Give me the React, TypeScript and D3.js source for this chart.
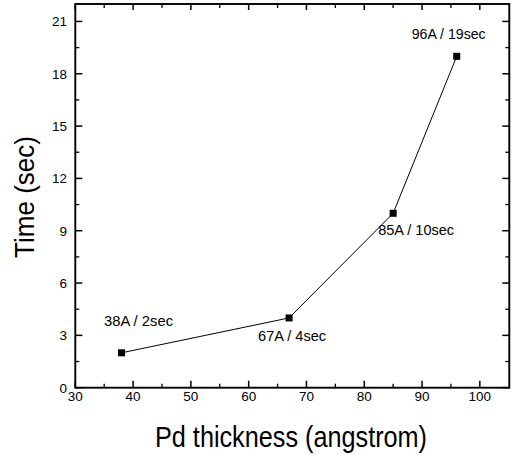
import React from "react";
import * as d3 from "d3";

const thickness = [38, 67, 85, 96];
const timeSec = [2, 4, 10, 19];
const pointLabels = ["38A / 2sec", "67A / 4sec", "85A / 10sec", "96A / 19sec"];
const xTickValues = [30, 40, 50, 60, 70, 80, 90, 100];
const xMinorValues = [35, 45, 55, 65, 75, 85, 95];
const yTickValues = [0, 3, 6, 9, 12, 15, 18, 21];
const yMinorValues = [1.5, 4.5, 7.5, 10.5, 13.5, 16.5, 19.5];
const xTitle = "Pd thickness (angstrom)";
const yTitle = "Time (sec)";

// label layout (offsets from point, text width)
const labelLayout = [
  { dx: -17.5, dy: -27, w: 69 },
  { dx: -31, dy: 23, w: 68 },
  { dx: -15, dy: 21.6, w: 76 },
  { dx: -45, dy: -17.5, w: 74 },
];

const W = 512;
const H = 455;
const left = 75.3;
const right = 509.3;
const top = 4;
const bottom = 387.7;
const FONT = "'Liberation Sans', Arial, Helvetica, sans-serif";

export default function App() {
  const x = d3.scaleLinear().domain([30, 105.1]).range([left, right]);
  const y = d3.scaleLinear().domain([0, 22]).range([bottom, top]);
  const line = d3
    .line<number>()
    .x((_, i) => x(thickness[i]))
    .y((_, i) => y(timeSec[i]));
  const major = 7;
  const minor = 4;
  const ms = 7;

  return (
    <svg
      width={W}
      height={H}
      style={{ position: "absolute", left: 0, top: 0, display: "block", background: "#fff" }}
      fontFamily={FONT}
    >
      <rect x={0} y={0} width={W} height={H} fill="#fff" />
      {/* frame */}
      <rect
        x={left}
        y={top}
        width={right - left}
        height={bottom - top}
        fill="none"
        stroke="#000"
        strokeWidth={1.9}
      />
      {/* x ticks bottom & top */}
      {xTickValues.map((v) => (
        <g key={"xt" + v}>
          <line x1={x(v)} x2={x(v)} y1={bottom} y2={bottom - major} stroke="#000" strokeWidth={1.5} />
          <line x1={x(v)} x2={x(v)} y1={top} y2={top + major - 1} stroke="#000" strokeWidth={1.5} />
          <text x={x(v)} y={400.5} textAnchor="middle" fontSize={13.5} fill="#000">
            {v}
          </text>
        </g>
      ))}
      {xMinorValues.map((v) => (
        <g key={"xm" + v}>
          <line x1={x(v)} x2={x(v)} y1={bottom} y2={bottom - minor} stroke="#000" strokeWidth={1.3} />
          <line x1={x(v)} x2={x(v)} y1={top} y2={top + minor} stroke="#000" strokeWidth={1.3} />
        </g>
      ))}
      {/* y ticks left & right */}
      {yTickValues.map((v) => (
        <g key={"yt" + v}>
          <line x1={left} x2={left + major} y1={y(v)} y2={y(v)} stroke="#000" strokeWidth={1.5} />
          <line x1={right} x2={right - major} y1={y(v)} y2={y(v)} stroke="#000" strokeWidth={1.5} />
          <text x={67} y={y(v)} dy="0.36em" textAnchor="end" fontSize={13.5} fill="#000">
            {v}
          </text>
        </g>
      ))}
      {yMinorValues.map((v) => (
        <g key={"ym" + v}>
          <line x1={left} x2={left + minor} y1={y(v)} y2={y(v)} stroke="#000" strokeWidth={1.3} />
          <line x1={right} x2={right - minor} y1={y(v)} y2={y(v)} stroke="#000" strokeWidth={1.3} />
        </g>
      ))}
      {/* data line */}
      <path d={line(timeSec) || ""} fill="none" stroke="#000" strokeWidth={1} />
      {thickness.map((t, i) => (
        <rect
          key={"m" + i}
          x={x(t) - ms / 2}
          y={y(timeSec[i]) - ms / 2}
          width={ms}
          height={ms}
          fill="#000"
        />
      ))}
      {pointLabels.map((s, i) => (
        <text
          key={"l" + i}
          x={x(thickness[i]) + labelLayout[i].dx}
          y={y(timeSec[i]) + labelLayout[i].dy}
          fontSize={15}
          textLength={labelLayout[i].w}
          lengthAdjust="spacingAndGlyphs"
          fill="#000"
        >
          {s}
        </text>
      ))}
      {/* axis titles */}
      <text
        x={291}
        y={446.5}
        textAnchor="middle"
        fontSize={29}
        textLength={272}
        lengthAdjust="spacingAndGlyphs"
        fill="#000"
      >
        {xTitle}
      </text>
      <text
        transform={`translate(33.5,197) rotate(-90)`}
        textAnchor="middle"
        fontSize={28}
        textLength={122}
        lengthAdjust="spacingAndGlyphs"
        fill="#000"
      >
        {yTitle}
      </text>
    </svg>
  );
}
